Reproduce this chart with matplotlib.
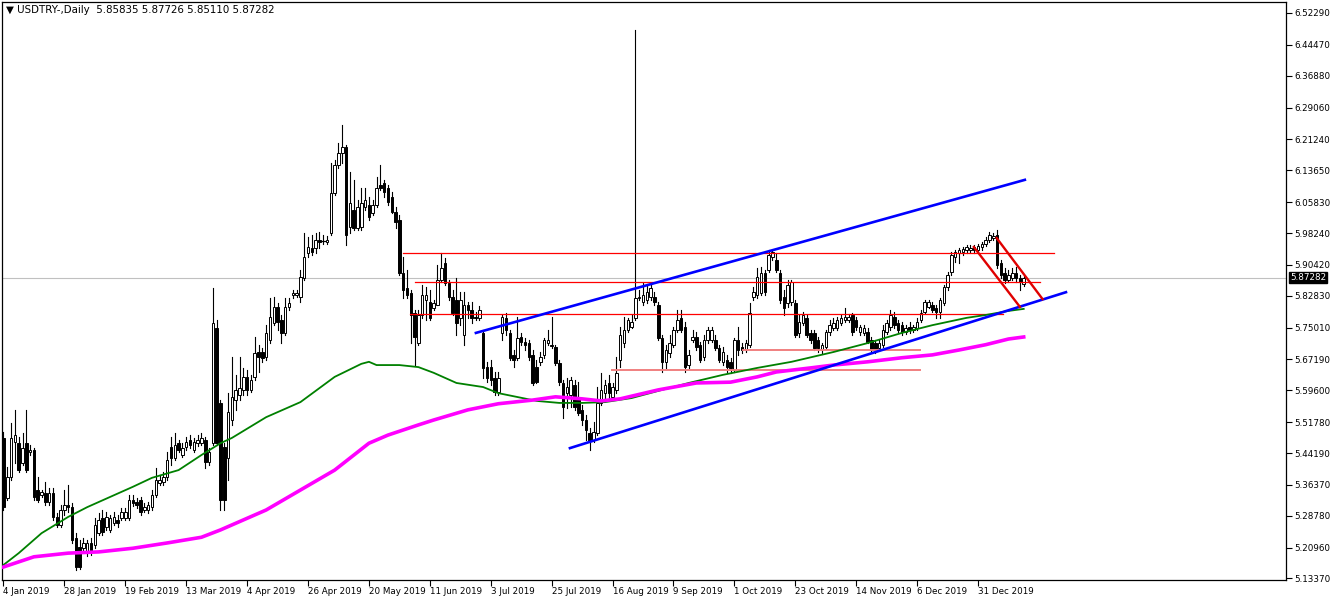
import matplotlib
matplotlib.use("Agg")
import matplotlib.pyplot as plt
from matplotlib.patches import Rectangle

# daily candles, USDTRY, from 4 Jan 2019 (one value per bar)
opens = [
    5.479, 5.331, 5.383, 5.469, 5.466, 5.417, 5.466, 5.444, 5.449, 5.351,
    5.339, 5.344, 5.322, 5.344, 5.285, 5.265, 5.302, 5.314, 5.309, 5.233,
    5.211, 5.208, 5.196, 5.221, 5.216, 5.245, 5.282, 5.260, 5.253, 5.270,
    5.277, 5.282, 5.282, 5.282, 5.327, 5.322, 5.327, 5.302, 5.302, 5.309,
    5.339, 5.368, 5.371, 5.383, 5.456, 5.429, 5.466, 5.437, 5.456, 5.474,
    5.449, 5.466, 5.466, 5.474, 5.420, 5.466, 5.749, 5.565, 5.456, 5.429,
    5.523, 5.572, 5.584, 5.597, 5.629, 5.597, 5.629, 5.690, 5.690, 5.678,
    5.720, 5.761, 5.801, 5.769, 5.737, 5.801, 5.830, 5.830, 5.825, 5.872,
    5.933, 5.946, 5.946, 5.965, 5.963, 5.960, 5.982, 6.081, 6.150, 6.179,
    6.194, 5.997, 6.039, 5.994, 5.997, 6.046, 6.051, 6.032, 6.051, 6.100,
    6.105, 6.093, 6.071, 6.034, 6.014, 5.884, 5.847, 5.835, 5.786, 5.712,
    5.781, 5.818, 5.813, 5.798, 5.805, 5.867, 5.909, 5.859, 5.825, 5.818,
    5.774, 5.732, 5.805, 5.793, 5.776, 5.774, 5.737, 5.653, 5.653, 5.626,
    5.592, 5.737, 5.774, 5.737, 5.683, 5.676, 5.727, 5.715, 5.712, 5.683,
    5.653, 5.666, 5.683, 5.712, 5.708, 5.703, 5.663, 5.614, 5.589, 5.584,
    5.609, 5.580, 5.548, 5.523, 5.491, 5.474, 5.491, 5.565, 5.589, 5.614,
    5.580, 5.597, 5.671, 5.712, 5.744, 5.752, 5.774, 5.823, 5.813, 5.818,
    5.825, 5.825, 5.805, 5.725, 5.666, 5.688, 5.708, 5.744, 5.774, 5.752,
    5.658, 5.720, 5.727, 5.708, 5.678, 5.720, 5.720, 5.720, 5.700, 5.666,
    5.671, 5.666, 5.646, 5.720, 5.703, 5.695, 5.708, 5.825, 5.830, 5.835,
    5.884, 5.891, 5.923, 5.916, 5.884, 5.825, 5.810, 5.813, 5.810, 5.737,
    5.761, 5.774, 5.737, 5.737, 5.720, 5.695, 5.703, 5.739, 5.749, 5.749,
    5.761, 5.769, 5.769, 5.781, 5.769, 5.739, 5.737, 5.739, 5.720, 5.712,
    5.700, 5.708, 5.739, 5.752, 5.776, 5.761, 5.756, 5.739, 5.752, 5.744,
    5.749, 5.769, 5.788, 5.801, 5.805, 5.798, 5.788, 5.810, 5.850, 5.887,
    5.923, 5.933, 5.936, 5.941, 5.941, 5.948, 5.941, 5.948, 5.955, 5.965,
    5.970, 5.977, 5.909, 5.884, 5.867, 5.872, 5.884, 5.872, 5.85835,
]
highs = [
    5.494, 5.408, 5.516, 5.548, 5.481, 5.491, 5.548, 5.461, 5.454, 5.383,
    5.351, 5.371, 5.356, 5.356, 5.295, 5.314, 5.351, 5.363, 5.319, 5.245,
    5.228, 5.233, 5.228, 5.233, 5.282, 5.295, 5.302, 5.297, 5.290, 5.297,
    5.290, 5.307, 5.307, 5.339, 5.339, 5.331, 5.334, 5.319, 5.322, 5.351,
    5.405, 5.388, 5.395, 5.444, 5.481, 5.491, 5.474, 5.466, 5.481, 5.486,
    5.479, 5.486, 5.491, 5.481, 5.454, 5.847, 5.769, 5.572, 5.466, 5.589,
    5.678, 5.634, 5.678, 5.651, 5.646, 5.634, 5.727, 5.708, 5.700, 5.756,
    5.823, 5.825, 5.810, 5.781, 5.823, 5.823, 5.842, 5.842, 5.891, 5.982,
    5.972, 5.977, 5.982, 5.985, 5.977, 5.975, 6.154, 6.162, 6.204, 6.248,
    6.199, 6.132, 6.113, 6.064, 6.093, 6.093, 6.071, 6.064, 6.120, 6.150,
    6.113, 6.100, 6.083, 6.046, 6.027, 5.923, 5.891, 5.842, 5.793, 5.793,
    5.855, 5.850, 5.842, 5.818, 5.904, 5.933, 5.921, 5.867, 5.842, 5.872,
    5.837, 5.837, 5.813, 5.813, 5.788, 5.803, 5.744, 5.666, 5.671, 5.641,
    5.641, 5.781, 5.786, 5.744, 5.695, 5.776, 5.737, 5.725, 5.720, 5.695,
    5.671, 5.690, 5.725, 5.744, 5.776, 5.708, 5.671, 5.621, 5.626, 5.629,
    5.621, 5.616, 5.560, 5.535, 5.503, 5.518, 5.604, 5.639, 5.621, 5.634,
    5.614, 5.678, 5.752, 5.776, 5.774, 5.781, 6.481, 5.842, 5.859, 5.855,
    5.855, 5.837, 5.813, 5.732, 5.708, 5.732, 5.752, 5.793, 5.793, 5.764,
    5.695, 5.744, 5.739, 5.715, 5.732, 5.752, 5.752, 5.732, 5.708, 5.703,
    5.683, 5.676, 5.725, 5.752, 5.712, 5.720, 5.810, 5.850, 5.896, 5.899,
    5.891, 5.941, 5.941, 5.933, 5.891, 5.842, 5.867, 5.867, 5.818, 5.781,
    5.788, 5.781, 5.744, 5.744, 5.727, 5.712, 5.744, 5.769, 5.774, 5.776,
    5.781, 5.798, 5.783, 5.786, 5.776, 5.756, 5.756, 5.749, 5.727, 5.720,
    5.720, 5.756, 5.769, 5.793, 5.788, 5.769, 5.764, 5.756, 5.764, 5.756,
    5.774, 5.793, 5.818, 5.818, 5.813, 5.805, 5.823, 5.855, 5.887, 5.936,
    5.941, 5.946, 5.948, 5.953, 5.953, 5.953, 5.955, 5.960, 5.972, 5.985,
    5.982, 5.990, 5.916, 5.896, 5.891, 5.896, 5.899, 5.879, 5.87726,
]
lows = [
    5.302, 5.327, 5.376, 5.417, 5.395, 5.412, 5.395, 5.437, 5.327, 5.322,
    5.334, 5.314, 5.314, 5.277, 5.260, 5.260, 5.290, 5.297, 5.221, 5.155,
    5.157, 5.199, 5.189, 5.191, 5.208, 5.240, 5.240, 5.253, 5.248, 5.265,
    5.260, 5.277, 5.277, 5.277, 5.312, 5.307, 5.290, 5.297, 5.295, 5.302,
    5.334, 5.363, 5.363, 5.376, 5.412, 5.425, 5.444, 5.432, 5.449, 5.454,
    5.444, 5.459, 5.461, 5.405, 5.412, 5.461, 5.461, 5.302, 5.302, 5.376,
    5.511, 5.548, 5.572, 5.584, 5.584, 5.592, 5.621, 5.641, 5.666, 5.671,
    5.712, 5.756, 5.744, 5.712, 5.732, 5.793, 5.823, 5.825, 5.813, 5.867,
    5.923, 5.928, 5.933, 5.946, 5.955, 5.955, 5.977, 6.076, 6.142, 6.154,
    5.953, 5.982, 5.990, 5.990, 5.990, 6.039, 6.014, 6.027, 6.046, 6.088,
    6.071, 6.051, 6.032, 5.994, 5.879, 5.823, 5.823, 5.712, 5.658, 5.708,
    5.774, 5.769, 5.769, 5.793, 5.805, 5.862, 5.855, 5.818, 5.781, 5.732,
    5.756, 5.708, 5.774, 5.761, 5.769, 5.769, 5.626, 5.616, 5.609, 5.584,
    5.584, 5.720, 5.732, 5.671, 5.653, 5.671, 5.708, 5.695, 5.671, 5.609,
    5.614, 5.658, 5.676, 5.708, 5.700, 5.658, 5.609, 5.528, 5.552, 5.555,
    5.548, 5.535, 5.511, 5.474, 5.449, 5.469, 5.486, 5.560, 5.577, 5.572,
    5.572, 5.589, 5.653, 5.703, 5.739, 5.749, 5.769, 5.818, 5.805, 5.810,
    5.818, 5.805, 5.720, 5.641, 5.651, 5.678, 5.703, 5.739, 5.739, 5.641,
    5.651, 5.715, 5.695, 5.666, 5.671, 5.712, 5.715, 5.695, 5.666, 5.658,
    5.641, 5.639, 5.641, 5.683, 5.688, 5.690, 5.703, 5.818, 5.823, 5.830,
    5.830, 5.886, 5.916, 5.886, 5.810, 5.781, 5.801, 5.805, 5.727, 5.727,
    5.756, 5.727, 5.712, 5.695, 5.690, 5.688, 5.698, 5.732, 5.744, 5.744,
    5.756, 5.764, 5.764, 5.732, 5.744, 5.732, 5.732, 5.712, 5.690, 5.688,
    5.695, 5.703, 5.734, 5.744, 5.749, 5.739, 5.732, 5.734, 5.737, 5.739,
    5.744, 5.764, 5.786, 5.798, 5.788, 5.774, 5.774, 5.805, 5.842, 5.879,
    5.911, 5.909, 5.928, 5.933, 5.936, 5.933, 5.936, 5.941, 5.950, 5.960,
    5.965, 5.896, 5.872, 5.859, 5.862, 5.867, 5.862, 5.842, 5.85110,
]
closes = [
    5.309, 5.383, 5.479, 5.486, 5.400, 5.454, 5.400, 5.449, 5.334, 5.327,
    5.346, 5.322, 5.344, 5.285, 5.265, 5.302, 5.314, 5.309, 5.228, 5.162,
    5.162, 5.221, 5.221, 5.199, 5.265, 5.277, 5.248, 5.285, 5.282, 5.285,
    5.270, 5.297, 5.297, 5.327, 5.319, 5.314, 5.297, 5.309, 5.314, 5.339,
    5.376, 5.376, 5.383, 5.425, 5.429, 5.461, 5.449, 5.454, 5.469, 5.461,
    5.469, 5.474, 5.479, 5.420, 5.444, 5.761, 5.466, 5.327, 5.327, 5.543,
    5.580, 5.597, 5.602, 5.629, 5.597, 5.621, 5.688, 5.678, 5.676, 5.737,
    5.776, 5.801, 5.764, 5.737, 5.801, 5.810, 5.835, 5.835, 5.874, 5.923,
    5.948, 5.936, 5.965, 5.960, 5.963, 5.965, 6.081, 6.150, 6.179, 6.194,
    5.977, 6.056, 5.994, 6.046, 6.056, 6.064, 6.022, 6.051, 6.093, 6.093,
    6.083, 6.059, 6.034, 6.009, 5.884, 5.842, 5.830, 5.781, 5.727, 5.781,
    5.830, 5.830, 5.774, 5.810, 5.867, 5.896, 5.859, 5.825, 5.786, 5.761,
    5.818, 5.805, 5.793, 5.774, 5.774, 5.793, 5.651, 5.626, 5.621, 5.592,
    5.626, 5.776, 5.744, 5.676, 5.671, 5.725, 5.715, 5.708, 5.678, 5.614,
    5.616, 5.678, 5.720, 5.720, 5.705, 5.663, 5.616, 5.555, 5.604, 5.621,
    5.555, 5.540, 5.523, 5.499, 5.474, 5.494, 5.565, 5.597, 5.609, 5.589,
    5.604, 5.639, 5.732, 5.744, 5.769, 5.764, 5.823, 5.825, 5.830, 5.837,
    5.847, 5.813, 5.725, 5.666, 5.695, 5.712, 5.744, 5.769, 5.744, 5.653,
    5.683, 5.727, 5.703, 5.671, 5.720, 5.744, 5.744, 5.700, 5.671, 5.690,
    5.653, 5.651, 5.720, 5.695, 5.695, 5.712, 5.786, 5.837, 5.874, 5.884,
    5.837, 5.928, 5.936, 5.891, 5.818, 5.798, 5.855, 5.862, 5.732, 5.764,
    5.781, 5.732, 5.720, 5.700, 5.700, 5.708, 5.739, 5.756, 5.761, 5.769,
    5.774, 5.776, 5.776, 5.739, 5.752, 5.752, 5.749, 5.715, 5.695, 5.695,
    5.712, 5.744, 5.761, 5.781, 5.756, 5.744, 5.739, 5.749, 5.744, 5.752,
    5.764, 5.786, 5.813, 5.813, 5.793, 5.788, 5.818, 5.850, 5.879, 5.928,
    5.936, 5.941, 5.943, 5.948, 5.946, 5.941, 5.950, 5.955, 5.965, 5.977,
    5.975, 5.904, 5.879, 5.867, 5.879, 5.884, 5.872, 5.862, 5.87282,
]

# moving averages read at some bars
green_bar = [0, 4, 10, 17, 22, 28, 34, 39, 46, 52, 57, 60, 69, 78, 87, 94, 96, 98,
             104, 109, 113, 119, 126, 130, 140, 146, 152, 158, 165, 173, 180, 189,
             198, 207, 218, 227, 236, 244, 253, 258, 264, 268]
green_ma = [5.167, 5.196, 5.245, 5.285, 5.309, 5.334, 5.359, 5.381, 5.400, 5.437,
            5.466, 5.479, 5.530, 5.567, 5.629, 5.661, 5.666, 5.658, 5.658, 5.653,
            5.639, 5.614, 5.604, 5.589, 5.570, 5.565, 5.565, 5.567, 5.577, 5.597,
            5.614, 5.634, 5.651, 5.666, 5.690, 5.712, 5.737, 5.756, 5.774, 5.781,
            5.791, 5.796]
magenta_bar = [0, 8, 17, 25, 34, 43, 52, 57, 69, 78, 87, 96, 101, 109, 113, 122,
               130, 139, 145, 152, 157, 162, 172, 182, 191, 198, 203, 212, 218,
               227, 236, 244, 251, 258, 264, 268]
magenta_ma = [5.162, 5.187, 5.196, 5.199, 5.208, 5.221, 5.235, 5.253, 5.302, 5.351,
              5.400, 5.466, 5.486, 5.511, 5.523, 5.548, 5.563, 5.572, 5.580, 5.575,
              5.570, 5.575, 5.597, 5.614, 5.616, 5.629, 5.641, 5.651, 5.658, 5.666,
              5.676, 5.683, 5.695, 5.708, 5.722, 5.727]

# drawn objects: (bar, price) end points
channel_up = [(124.1, 5.737), (268.3, 6.113)]
channel_low = [(148.8, 5.454), (279.1, 5.837)]
levels = [(5.934, 104.9, 275.9), (5.861, 108.1, 272.3), (5.783, 106.8, 262.5)]
levels_light = [(5.695, 194.2, 240.7), (5.645, 159.8, 240.7)]
flag_up = [(260.9, 5.970), (272.96, 5.820)]
flag_low = [(254.9, 5.948), (267.0, 5.801)]

price_ticks = [6.52290, 6.44470, 6.36880, 6.29060, 6.21240, 6.13650, 6.05830,
               5.98240, 5.90420, 5.82830, 5.75010, 5.67190, 5.59600, 5.51780,
               5.44190, 5.36370, 5.28780, 5.20960, 5.13370]
date_labels = ["4 Jan 2019", "28 Jan 2019", "19 Feb 2019", "13 Mar 2019", "4 Apr 2019",
               "26 Apr 2019", "20 May 2019", "11 Jun 2019", "3 Jul 2019", "25 Jul 2019",
               "16 Aug 2019", "9 Sep 2019", "1 Oct 2019", "23 Oct 2019", "14 Nov 2019",
               "6 Dec 2019", "31 Dec 2019"]
last_price = 5.87282

W, H = 1332, 601
fig = plt.figure(figsize=(W / 100, H / 100), dpi=100)
ax = fig.add_axes([2 / W, 21 / H, 1284 / W, 578 / H])

# candles
for i in range(len(closes)):
    o, h, l, c = opens[i], highs[i], lows[i], closes[i]
    ax.plot([i, i], [min(l, o, c), max(h, o, c)], color="black", lw=0.8, zorder=2)
    bull = c >= o
    if abs(c - o) < 0.0015:
        ax.plot([i - 0.36, i + 0.36], [c, c], color="black", lw=0.9, zorder=3)
    else:
        ax.add_patch(Rectangle((i - 0.33, min(o, c)), 0.66, abs(c - o),
                               facecolor="white" if bull else "black",
                               edgecolor="black", lw=0.7, zorder=3))

ax.axhline(last_price, color="#c0c0c0", lw=0.8, zorder=1)

ax.plot(green_bar, green_ma, color="#008000", lw=1.3, zorder=5)
ax.plot(magenta_bar, magenta_ma, color="#ff00ff", lw=2.6, zorder=5,
        solid_joinstyle="round")

for y, x0, x1 in levels:
    ax.plot([x0, x1], [y, y], color="#ff0000", lw=0.9, zorder=4)
for y, x0, x1 in levels_light:
    ax.plot([x0, x1], [y, y], color="#f08080", lw=1.4, zorder=4)
for seg in (channel_up, channel_low):
    ax.plot([seg[0][0], seg[1][0]], [seg[0][1], seg[1][1]], color="#0000ff", lw=1.9, zorder=6)
for seg in (flag_up, flag_low):
    ax.plot([seg[0][0], seg[1][0]], [seg[0][1], seg[1][1]], color="#e00000", lw=1.7, zorder=6)

ax.set_xlim(-0.39, 336.9)
ax.set_ylim(5.1300, 6.5499)

ax.yaxis.tick_right()
ax.set_yticks(price_ticks)
ax.set_yticklabels(["%.5f" % v for v in price_ticks])
ax.set_xticks([16 * k for k in range(len(date_labels))])
ax.set_xticklabels(date_labels)
for lbl in ax.get_xticklabels():
    lbl.set_horizontalalignment("left")
ax.tick_params(axis="both", direction="out", length=4, width=0.8, labelsize=6.3,
               colors="black", pad=2)
ax.tick_params(axis="x", pad=1)
for s in ax.spines.values():
    s.set_linewidth(0.9)

ax.annotate("%.5f" % last_price, xy=(1.0, last_price), xycoords=("axes fraction", "data"),
            xytext=(3, 0), textcoords="offset points", va="center", ha="left",
            fontsize=6.3, color="white",
            bbox=dict(boxstyle="square,pad=0.12", facecolor="black", edgecolor="black"))

fig.text(6 / W, 1 - 10 / H, "\u25bc USDTRY-,Daily  5.85835 5.87726 5.85110 5.87282",
         fontsize=7.4, va="center", ha="left")

fig.savefig("out.png", dpi=100)
